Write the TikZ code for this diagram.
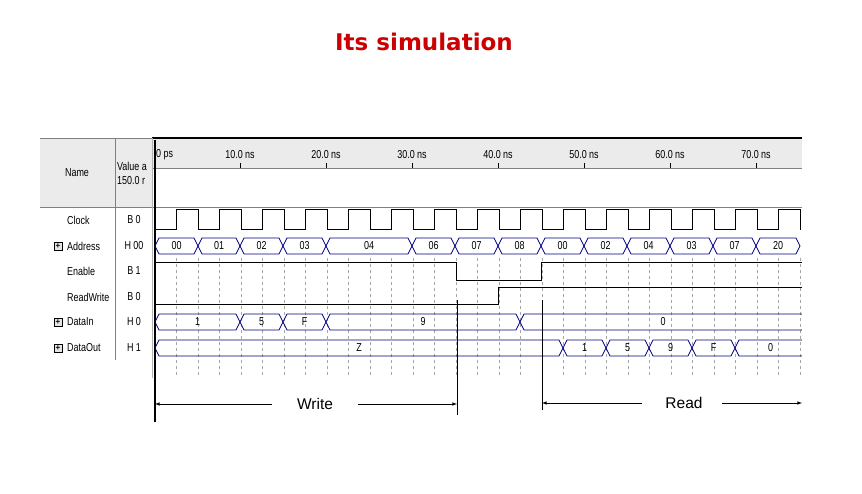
\documentclass[tikz,border=0pt]{standalone}
\usepackage{fontspec}
\setmainfont{Liberation Sans}
\newfontfamily\titlefont{DejaVu Sans}
\tikzset{
  bus/.style={draw=blue!50!black, line width=0.8pt},
  wave/.style={draw=black, line width=1pt},
  sig/.style={font=\fontsize{11.5}{12}\selectfont, inner sep=0pt, xscale=0.78},
  grid/.style={draw=gray!70, dashed, line width=0.4pt},
  arr/.style={-latex, line width=0.6pt},
}
\newcommand\busseg[4]{% x1 x2 yc label
  \path[bus] (#1,#3) -- (#1+4,#3-8) -- (#2-4,#3-8) -- (#2,#3) -- (#2-4,#3+8) -- (#1+4,#3+8) -- cycle;
  \node[sig] (b#1x#3) at ({(#1+#2)/2},#3) {#4};}
\newcommand\plusbox[2]{\node[draw, fill=black!10, inner sep=0pt, minimum size=8pt, font=\fontsize{8}{8}\selectfont\bfseries] (p#2) at (#1,#2) {+};}
\begin{document}
\begin{tikzpicture}[x=1pt,y=-1pt]
\useasboundingbox (0,0) rectangle (862,494);
\node[font=\titlefont\bfseries\fontsize{23}{25}\selectfont, text=red!80!black] (title) at (424,42) {Its simulation};
% header panels
\fill[black!8] (40,138) rectangle (152,207);
\fill[black!8] (152,138) rectangle (802,168);
\draw[black!50] (40,138) -- (152,138);
\draw[black, line width=2pt] (152,138) -- (802,138);
\draw[black!50] (152,168) -- (802,168);
\draw[black!50] (40,207) -- (802,207);
\draw[black!50] (115,138) -- (115,360);
\draw[black!30] (152,138) -- (152,378);
\draw[black, line width=1.5pt] (155,140) -- (155,422);
\node[sig] (hname) at (77,173) {Name};
\node[sig, anchor=west] (hval1) at (117,166) {Value a};
\node[sig, anchor=west] (hval2) at (117,181) {150.0 r};
% ruler
\node[sig, anchor=west] (r0) at (156,155) {0 ps};
\foreach \t/\x in {10/240,20/326,30/412,40/498,50/584,60/670,70/756}{
  \node[sig] (r\t) at (\x,155) {\t.0 ns};
  \draw[black] (\x,163) -- (\x,168);}
% grid
\foreach \k in {1,...,30}{\draw[grid] ({155+8.6*2.5*\k},258) -- ({155+8.6*2.5*\k},378);}
% names
\foreach \n/\y/\v/\p in {Clock/220/B 0/0, Address/246/H 00/1, Enable/271/B 1/0, ReadWrite/297/B 0/0, DataIn/322/H 0/1, DataOut/348/H 1/1}{
  \node[sig, anchor=west] (n\n) at (67,\y) {\n};
  \node[sig] (v\n) at (134,\y) {\v};
  \ifnum\p=1 \plusbox{58}{\y}\fi}
% clock
\draw[wave] (155,230) \foreach \k in {0,...,14}{ -- ({155+8.6*(2.5+5*\k)},230) -- ({155+8.6*(2.5+5*\k)},210) -- ({155+8.6*(5+5*\k)},210) -- ({155+8.6*(5+5*\k)},230)};
% address
\foreach \a/\b/\l in {155/198/00,198/240/01,240/283/02,283/326/03,326/412/04,412/455/06,455/498/07,498/541/08,541/584/00,584/627/02,627/670/04,670/713/03,713/756/07,756/800/20}{\busseg{\a}{\b}{246}{\l}}
% enable
\draw[wave] (155,263) -- (456,263) -- (456,281) -- (541,281) -- (541,263) -- (802,263);
% readwrite
\draw[wave] (155,305) -- (498,305) -- (498,288) -- (802,288);
% datain
\foreach \a/\b/\l in {155/240/1,240/283/5,283/326/F,326/520/9,520/806/0}{\busseg{\a}{\b}{322}{\l}}
% dataout
\foreach \a/\b/\l in {155/563/Z,563/606/1,606/649/5,649/692/9,692/735/F,735/806/0}{\busseg{\a}{\b}{348}{\l}}
\fill[white] (802,230) rectangle (812,360);
% markers
\draw[black, line width=0.8pt] (457,300) -- (457,415);
\draw[black, line width=0.8pt] (542,300) -- (542,410);
\coordinate (w1) at (155,404); \coordinate (w2) at (457,404);
\coordinate (rd1) at (542,403); \coordinate (rd2) at (802,403);
\node[font=\fontsize{15.5}{17}\selectfont] (write) at (315,404) {Write};
\node[font=\fontsize{15.5}{17}\selectfont] (read) at (684,403) {Read};
\draw[arr] ([xshift=-22pt]write.west |- w1) -- (w1);
\draw[arr] ([xshift=22pt]write.east |- w2) -- (w2);
\draw[arr] ([xshift=-20pt]read.west |- rd1) -- (rd1);
\draw[arr] ([xshift=16pt]read.east |- rd2) -- (rd2);
\end{tikzpicture}
\end{document}
